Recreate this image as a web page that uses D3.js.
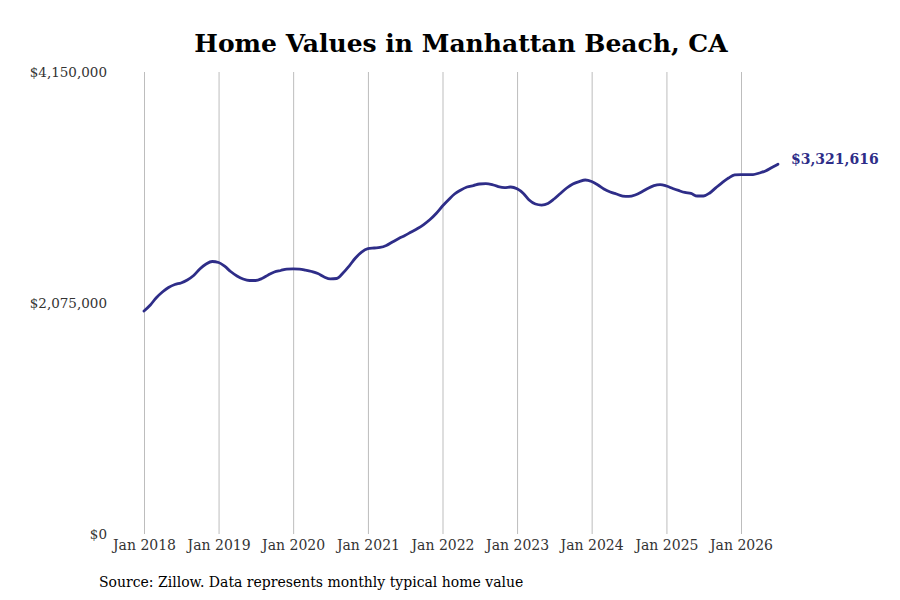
<!DOCTYPE html>
<html>
<head>
<meta charset="utf-8">
<script src="https://cdn.jsdelivr.net/npm/d3@7"></script>
<style>
  body { margin: 0; background: #fff; }
  svg { display: block; font-family: "DejaVu Serif", serif; }
</style>
</head>
<body>
<div id="chart"></div>
<script>
// Monthly typical home value, Jan 2018 .. Jul 2026
const startMonth = new Date(2018, 0, 1);
const homeValues = [
  2003000, 2057000, 2120000, 2174000, 2214000, 2241000, 2255000, 2282000, 2322000, 2380000, 2425000, 2448000,
  2439000, 2403000, 2358000, 2318000, 2291000, 2277000, 2277000, 2295000, 2327000, 2353000, 2367000, 2380000,
  2382000, 2380000, 2371000, 2358000, 2340000, 2309000, 2291000, 2295000, 2344000, 2407000, 2479000, 2533000,
  2563000, 2569000, 2574000, 2592000, 2623000, 2654000, 2681000, 2713000, 2744000, 2780000, 2825000, 2879000,
  2946000, 3005000, 3054000, 3090000, 3117000, 3130000, 3144000, 3148000, 3139000, 3121000, 3112000, 3117000,
  3101000, 3059000, 3000000, 2964000, 2955000, 2969000, 3009000, 3059000, 3108000, 3144000, 3166000, 3180000,
  3166000, 3135000, 3099000, 3072000, 3054000, 3036000, 3032000, 3045000, 3072000, 3104000, 3130000, 3139000,
  3126000, 3104000, 3086000, 3068000, 3059000, 3036000, 3036000, 3063000, 3112000, 3157000, 3198000, 3225000,
  3229000, 3229000, 3229000, 3243000, 3261000, 3292000, 3321616
];
const yTicks = [0, 2075000, 4150000];
const xTickYears = [2018, 2019, 2020, 2021, 2022, 2023, 2024, 2025, 2026];

const title = 'Home Values in Manhattan Beach, CA';
const sourceNote = 'Source: Zillow. Data represents monthly typical home value';

const lineColor = '#2e2d88';
const width = 900, height = 600;
const margin = { top: 72, right: 121, bottom: 66, left: 144 };

const data = homeValues.map((v, i) => ({
  date: new Date(startMonth.getFullYear(), startMonth.getMonth() + i, 1),
  value: v
}));

const svg = d3.select('#chart').append('svg')
  .attr('width', width)
  .attr('height', height);

// x range: Jan 2018 at 144, Jan 2026 at 741
const x = d3.scaleTime()
  .domain([new Date(2018, 0, 1), new Date(2026, 0, 1)])
  .range([144, 741]);

const y = d3.scaleLinear()
  .domain([0, 4150000])
  .range([height - margin.bottom, margin.top]);

// title
svg.append('text')
  .attr('x', 461)
  .attr('y', 52)
  .attr('text-anchor', 'middle')
  .style('font-size', '25px')
  .style('font-weight', 'bold')
  .style('fill', '#000')
  .text(title);

// vertical gridlines at each January
const xTickDates = xTickYears.map(yr => new Date(yr, 0, 1));
const xAxis = d3.axisBottom(x)
  .tickValues(xTickDates)
  .tickSize(-(y(0) - y(4150000)))
  .tickFormat(d3.timeFormat('Jan %Y'));

const gx = svg.append('g')
  .attr('transform', `translate(0,${y(0)})`)
  .call(xAxis);
gx.select('.domain').remove();
gx.selectAll('line').attr('stroke', '#bdbdbd').attr('stroke-width', 1);
gx.selectAll('text')
  .attr('y', 6)
  .style('font-size', '14px')
  .style('font-family', '"DejaVu Serif", serif')
  .style('fill', '#333');

// y labels only
const yAxis = d3.axisLeft(y)
  .tickValues(yTicks)
  .tickSize(0)
  .tickFormat(d => '$' + d3.format(',')(d));

const gy = svg.append('g')
  .attr('transform', 'translate(110,0)')
  .call(yAxis);
gy.select('.domain').remove();
gy.selectAll('text')
  .attr('dy', '0.32em')
  .style('font-size', '13.5px')
  .style('font-family', '"DejaVu Serif", serif')
  .style('fill', '#333');

// line
const line = d3.line()
  .x(d => x(d.date))
  .y(d => y(d.value))
  .curve(d3.curveMonotoneX);

svg.append('path')
  .datum(data)
  .attr('fill', 'none')
  .attr('stroke', lineColor)
  .attr('stroke-width', 2.8)
  .attr('stroke-linejoin', 'round')
  .attr('stroke-linecap', 'round')
  .attr('d', line);

// end label
const last = data[data.length - 1];
svg.append('text')
  .attr('x', x(last.date) + 13)
  .attr('y', y(last.value))
  .style('font-size', '14px')
  .style('font-weight', 'bold')
  .style('fill', lineColor)
  .text('$' + d3.format(',')(last.value));

// source note
svg.append('text')
  .attr('x', 99)
  .attr('y', 587)
  .style('font-size', '14px')
  .style('fill', '#000')
  .text(sourceNote);
</script>
</body>
</html>
